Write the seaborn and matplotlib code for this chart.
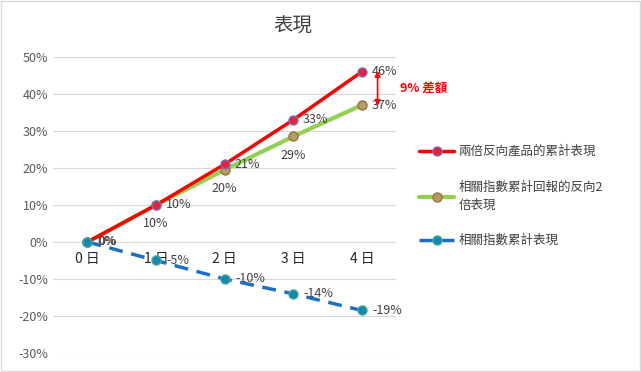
import matplotlib
matplotlib.use("Agg")
import matplotlib.pyplot as plt
import seaborn as sns
import pandas as pd
from matplotlib.patches import Rectangle

# chart data
days = ["0 日", "1 日", "2 日", "3 日", "4 日"]
red_vals = [0, 10, 21, 33, 46]
green_vals = [0, 10, 19.5, 28.5, 37]
blue_vals = [0, -5, -10, -14, -18.5]
red_labels = ["0%", "10%", "21%", "33%", "46%"]
green_labels = ["", "10%", "20%", "29%", "37%"]
blue_labels = ["0%", "-5%", "-10%", "-14%", "-19%"]
series_names = ["兩倍反向產品的累計表現", "相關指數累計回報的反向2\n倍表現", "相關指數累計表現"]
gap_text = "9% 差額"

sns.set_style("white")
plt.rcParams['font.family'] = ['Noto Sans CJK TC', 'DejaVu Sans']

fig = plt.figure(figsize=(6.41, 3.72), dpi=100)
ax = fig.add_axes([0.083, 0.051, 0.535, 0.796])
fig.patches.append(Rectangle((0.002, 0.003), 0.996, 0.994, transform=fig.transFigure,
                             fill=False, edgecolor="#D9D9D9", lw=1))

x = list(range(len(days)))
df = pd.DataFrame({"x": x, "red": red_vals, "green": green_vals, "blue": blue_vals})

sns.lineplot(data=df, x="x", y="red", ax=ax, color="#FF0000", lw=2.5, marker="o", ms=6.5,
             mfc="#E8203A", mec="#7B6FC0", mew=1, label=series_names[0], zorder=4)
sns.lineplot(data=df, x="x", y="green", ax=ax, color="#92D050", lw=3, marker="o", ms=6.5,
             mfc="#B0A060", mec="#A0703A", mew=1, label=series_names[1], zorder=3)
sns.lineplot(data=df, x="x", y="blue", ax=ax, color="#1F6FC0", lw=2.5, ls=(0, (4, 2.5)),
             marker="o", ms=6.5, mfc="#1A86B0", mec="#3AAA9A", mew=1, label=series_names[2], zorder=5)

lbl = dict(textcoords="offset points", fontsize=9, color="#404040")
# data labels
for i in x:
    ax.annotate(red_labels[i], (i, red_vals[i]), xytext=(7, 0), va="center", ha="left", **lbl)
    if i == 4:
        ax.annotate(green_labels[i], (i, green_vals[i]), xytext=(7, 0), va="center", ha="left", **lbl)
    elif green_labels[i]:
        ax.annotate(green_labels[i], (i, green_vals[i]), xytext=(0, -9), va="top", ha="center", **lbl)
    ax.annotate(blue_labels[i], (i, blue_vals[i]), xytext=(7.5, 0), va="center", ha="left", **lbl)

# gap arrow
ax.annotate("", xy=(4.23, red_vals[4] + 1), xytext=(4.23, green_vals[4] - 1),
            arrowprops=dict(arrowstyle="<|-|>", color="#FF0000", lw=1.2, mutation_scale=8))
ax.text(4.55, (red_vals[4] + green_vals[4]) / 2, gap_text, color="#FF0000", fontsize=9,
        fontweight="bold", va="center", ha="left", clip_on=False)

ax.set_xlim(-0.5, 4.5)
ax.set_ylim(-30, 50)
ax.set_yticks(range(-30, 51, 10))
ax.set_yticklabels([f"{v}%" for v in range(-30, 51, 10)], fontsize=9, color="#595959")
ax.set_xticks(x)
ax.set_xticklabels(days, fontsize=9, color="#595959")
ax.spines["bottom"].set_position(("data", 0))
for s in ["top", "right", "left", "bottom"]:
    ax.spines[s].set_visible(False)
ax.tick_params(axis="both", length=0)
ax.tick_params(axis="x", pad=7)
ax.grid(axis="y", color="#D9D9D9", lw=0.8)
ax.set_axisbelow(True)
ax.set_xlabel("")
ax.set_ylabel("")

fig.text(0.457, 0.93, "表現", fontsize=14, color="#404040", ha="center", va="center")

leg = ax.legend(loc="center left", bbox_to_anchor=(1.035, 0.53), frameon=False, fontsize=9,
                handlelength=2.8, labelspacing=1.8, handletextpad=0.3)
for t in leg.get_texts():
    t.set_color("#404040")
    t.set_linespacing(1.5)

fig.savefig("out.png", dpi=100)
